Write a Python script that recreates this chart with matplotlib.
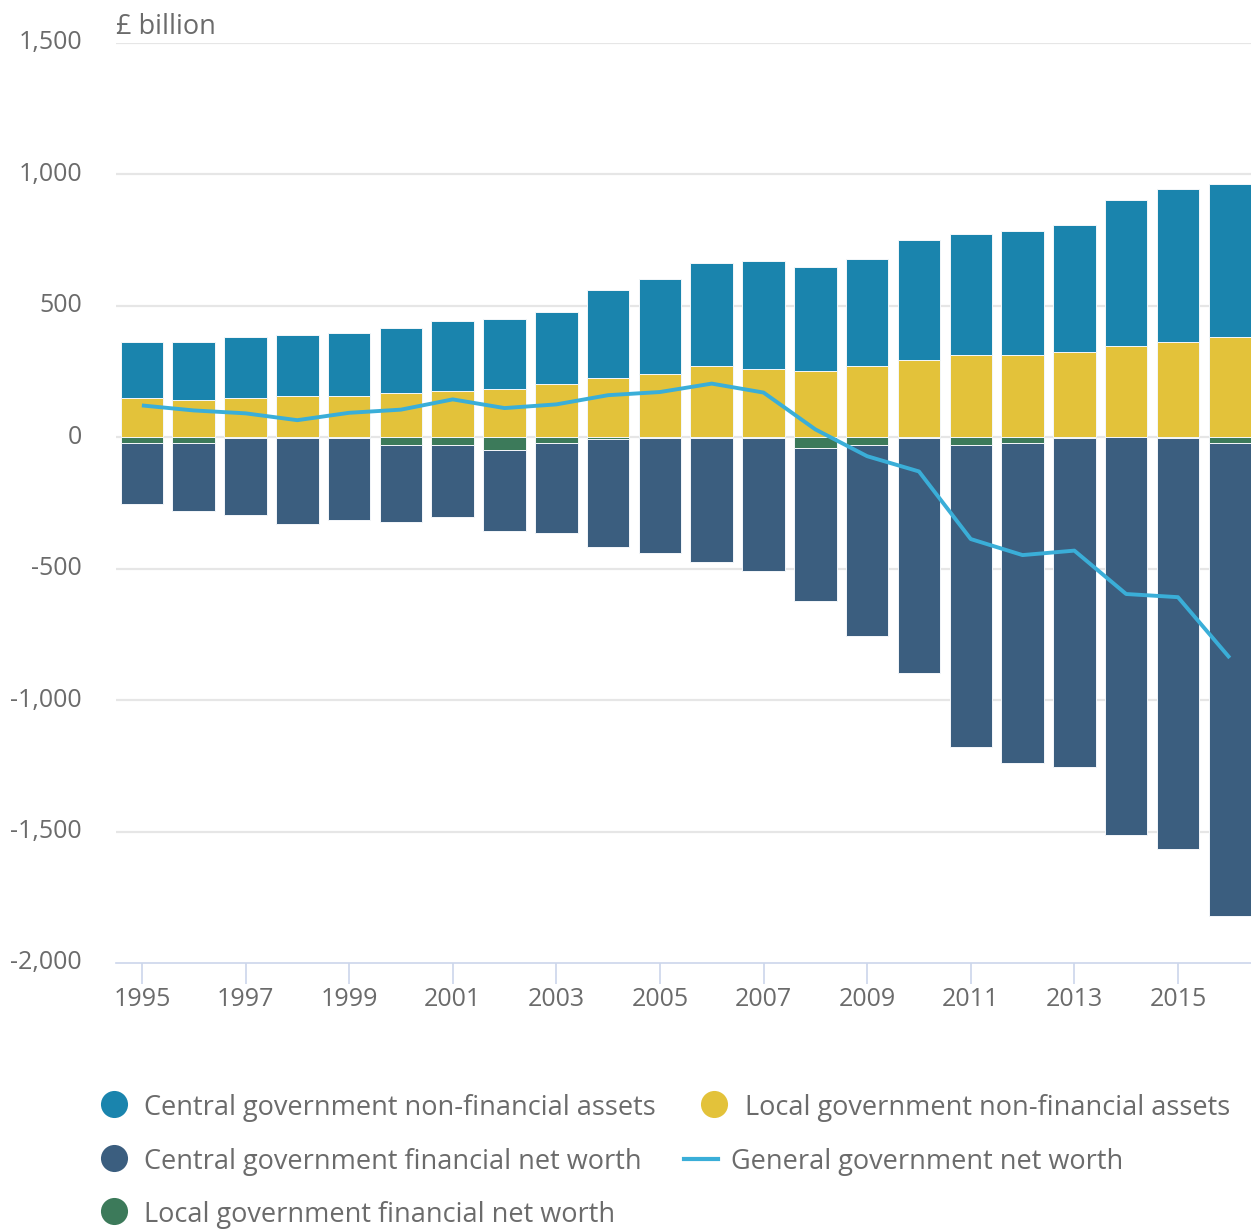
import matplotlib
matplotlib.use("Agg")
import matplotlib.pyplot as plt
from matplotlib.lines import Line2D
import numpy as np

plt.rcParams['font.family'] = ['Open Sans', 'DejaVu Sans']

years = list(range(1995, 2017))
central_nonfin = [214, 223, 231, 232, 240, 247, 266, 265, 274, 332, 361, 393, 411, 395, 409, 455, 462, 471, 485, 557, 582, 583]
local_nonfin = [148, 139, 148, 156, 156, 166, 174, 183, 200, 226, 241, 269, 259, 250, 269, 293, 311, 311, 322, 345, 362, 379]
central_fin_nw = [-232, -256, -293, -326, -311, -292, -274, -308, -344, -411, -440, -473, -509, -580, -726, -892, -1147, -1218, -1251, -1512, -1562, -1799]
local_fin_nw = [-22, -24, -4, -4, -4, -31, -31, -48, -22, -6, -2, -4, -2, -42, -32, -5, -32, -22, -5, -1, -3, -22]
general_nw = [120, 101, 90, 64, 92, 104, 143, 110, 124, 159, 171, 203, 169, 29, -73, -131, -388, -449, -432, -597, -609, -840]

series_names = ["Central government non-financial assets", "Local government non-financial assets",
                "Central government financial net worth", "General government net worth",
                "Local government financial net worth"]
yticks = [-2000, -1500, -1000, -500, 0, 500, 1000, 1500]
ytick_labels = ["-2,000", "-1,500", "-1,000", "-500", "0", "500", "1,000", "1,500"]
xticks = list(range(1995, 2016, 2))

c_central_nf = "#1a84ad"
c_local_nf = "#e3c23a"
c_central_fin = "#3b5e7f"
c_local_fin = "#3c7a5a"
c_line = "#3aaed8"
txt = "#6b6b6b"

W, H = 1251, 1230
fig = plt.figure(figsize=(W / 100, H / 100), dpi=100)
top_px, bot_px = 42.5, 963
ax = fig.add_axes([116 / W, 1 - bot_px / H, 1135 / W, (bot_px - top_px) / H])

x = np.array(years)
lnf = np.array(local_nonfin)
cnf = np.array(central_nonfin)
lf = np.array(local_fin_nw)
cf = np.array(central_fin_nw)
bw = 0.82
kw = dict(width=bw, edgecolor="#f4f7fa", linewidth=0.7, zorder=2)
ax.bar(x, lnf, color=c_local_nf, **kw)
ax.bar(x, cnf, bottom=lnf, color=c_central_nf, **kw)
ax.bar(x, lf, color=c_local_fin, **kw)
ax.bar(x, cf, bottom=lf, color=c_central_fin, **kw)
ax.plot(x, general_nw, color=c_line, lw=2.8, zorder=4, solid_capstyle='butt')

ax.set_xlim(1994.5, 2016.41)
ax.set_ylim(-2000, 1500)
ax.set_yticks(yticks)
ax.set_yticklabels(ytick_labels)
for v in yticks[1:]:
    ax.axhline(v, color="#e6e6e6", lw=1.6, zorder=1)
ax.set_xticks(xticks)
ax.set_xticklabels([str(t) for t in xticks])

for s in ["top", "right", "left"]:
    ax.spines[s].set_visible(False)
ax.spines["bottom"].set_color("#ccd6eb")
ax.spines["bottom"].set_linewidth(1.2)
ax.tick_params(axis="x", length=15, width=1.2, color="#ccd6eb", labelsize=18, labelcolor=txt, pad=2)
ax.tick_params(axis="y", length=0, labelsize=18, labelcolor=txt, pad=24.5)
for lab in ax.get_yticklabels():
    lab.set_verticalalignment("center")

fig.text(116 / W, 1 - 27 / H, "£ billion", fontsize=19.5, color=txt, ha="left", va="center")

# legend
lax = fig.add_axes([0, 0, 1, 1])
lax.set_xlim(0, W)
lax.set_ylim(H, 0)
lax.axis("off")
entries = [
    (series_names[0], c_central_nf, "o", 114, 144, 1105),
    (series_names[1], c_local_nf, "o", 714, 745, 1105),
    (series_names[2], c_central_fin, "o", 114, 144, 1159),
    (series_names[3], c_line, "-", 701, 731, 1159),
    (series_names[4], c_local_fin, "o", 114, 144, 1212),
]
for name, col, mk, mx, tx, ty in entries:
    if mk == "o":
        lax.add_line(Line2D([mx], [ty - 1], marker="o", markersize=19.5, color=col, markeredgewidth=0, linestyle="none"))
    else:
        lax.add_line(Line2D([mx - 17, mx + 17], [ty, ty], color=col, lw=3))
    lax.text(tx, ty + 3, name, fontsize=19.5, color=txt, ha="left", va="center")

fig.savefig("out.png", dpi=100)
